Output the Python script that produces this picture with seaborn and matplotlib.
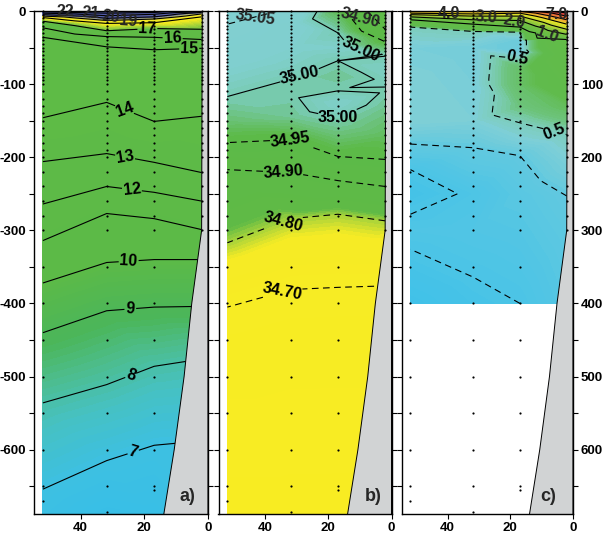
import numpy as np
import matplotlib
matplotlib.use("Agg")
import matplotlib.pyplot as plt
import matplotlib.tri as mtri
from matplotlib.colors import LinearSegmentedColormap, Normalize
from matplotlib.ticker import FixedLocator, FuncFormatter
import seaborn as sns

sns.set_style("ticks")
plt.rcParams["font.family"] = ["Liberation Sans Narrow", "Liberation Sans", "DejaVu Sans"]
plt.rcParams["font.weight"] = "bold"
plt.rcParams["axes.unicode_minus"] = False
plt.rcParams["lines.dashed_pattern"] = [6, 4]

# station positions (km from the coast)
STATION_KM = [51.8, 31.8, 16.9, 2.0]
STATION_BOTTOM = [670, 685, 655, 300]
SAMPLE_DEPTHS = [0, 5, 10, 15, 20, 25, 30, 35, 40, 45, 50, 55, 60, 65, 70, 75, 80, 85, 90, 95,
                 100, 110, 120, 130, 140, 150, 160, 170, 180, 190, 200, 220, 240, 260, 280, 300,
                 350, 400, 450, 500, 550, 600, 650]

# bottom profile
BATHY_KM = [1.8, 2.0, 5.1, 7.5, 10.6, 14.3]
BATHY_DEPTH = [0, 300, 400, 500, 600, 700]

# a) temperature: depth / value pairs read at each station
TEMP_DEPTH = [
    [0, 1, 3, 5, 7, 9, 14, 23, 36, 146, 206, 264, 314, 372, 440, 536, 654, 690],
    [0, 3, 6.5, 10, 13, 17, 27, 35, 49, 125, 195, 240, 277, 344, 410, 511, 615, 690],
    [0, 2, 4.5, 8, 11, 16, 24, 36, 53, 151, 207, 248, 284, 340, 405, 486, 594, 690],
    [0, 1, 2, 4, 8, 25, 39, 51, 144, 221, 260, 299, 340, 404, 476, 588, 690],
]
TEMP_VALUE = [
    [22.4, 22, 21, 20, 19, 18, 17, 16, 15, 14, 13, 12, 11, 10, 9, 8, 7, 6.8],
    [22.6, 22, 21, 20, 19, 18, 17, 16, 15, 14, 13, 12, 11, 10, 9, 8, 7, 6.4],
    [22.5, 22, 21, 20, 19, 18, 17, 16, 15, 14, 13, 12, 11, 10, 9, 8, 7, 6.5],
    [21.6, 21, 20, 19, 18, 17, 16, 15, 14, 13, 12, 11, 10, 9, 8, 7, 6.8],
]

# b) salinity
SAL_DEPTH = [
    [0, 18, 60, 117, 150, 180, 217, 317, 405, 690],
    [0, 20, 50, 75, 93, 117, 145, 176, 221, 284, 381, 690],
    [0, 30, 50, 68, 88, 108, 127, 150, 170, 199, 232, 278, 378, 690],
    [0, 25, 42, 60, 80, 95, 110, 130, 170, 203, 240, 287, 376, 690],
]
SAL_VALUE = [
    [35.07, 35.05, 35.03, 35.00, 34.98, 34.95, 34.90, 34.80, 34.70, 34.62],
    [35.045, 35.03, 35.02, 35.01, 35.00, 34.997, 34.99, 34.95, 34.90, 34.80, 34.70, 34.62],
    [34.965, 35.00, 35.015, 35.00, 34.99, 34.999, 35.015, 34.997, 34.98, 34.95, 34.90, 34.80, 34.70, 34.62],
    [34.86, 34.90, 34.95, 34.999, 35.01, 35.003, 34.998, 34.99, 34.97, 34.95, 34.90, 34.80, 34.70, 34.62],
]

# c) third parameter (upper 400 m only)
C_DEPTH = [
    [0, 3, 5, 8, 12, 22, 50, 100, 150, 182, 217, 250, 278, 300, 326, 400],
    [0, 4, 7, 12, 18, 28, 50, 100, 150, 187, 250, 300, 364, 400],
    [0, 3, 7, 13, 22, 29, 40, 55, 65, 80, 100, 130, 153, 175, 198, 250, 300, 400],
    [0, 2.5, 7, 12, 18, 25, 32, 39, 60, 100, 130, 169, 210, 253, 300, 400],
]
C_VALUE = [
    [4.8, 4.0, 3.0, 2.0, 1.0, 0.5, 0.45, 0.47, 0.47, 0.4, 0.3, 0.27, 0.3, 0.32, 0.3, 0.24],
    [4.6, 4.0, 3.0, 2.0, 1.0, 0.5, 0.44, 0.45, 0.46, 0.4, 0.31, 0.33, 0.3, 0.28],
    [5.2, 4.0, 3.0, 2.0, 1.0, 0.5, 0.42, 0.42, 0.5, 0.6, 0.6, 0.56, 0.5, 0.46, 0.4, 0.36, 0.34, 0.3],
    [8.5, 7.0, 6.0, 5.0, 4.0, 3.0, 2.0, 1.0, 0.85, 0.75, 0.62, 0.5, 0.45, 0.4, 0.38, 0.35],
]

# colour stops (value, colour)
TEMP_STOPS = [(6.0, "#34bdea"), (7.0, "#3dc0e2"), (7.7, "#46c1c2"), (8.3, "#4dbd8c"),
              (8.8, "#4bb65a"), (10.0, "#5cba47"), (17.0, "#5fbb46"), (17.5, "#b0d636"),
              (17.9, "#f4ea1e"), (19.2, "#f0e62a"), (19.7, "#9aa090"), (20.1, "#5c64ae"),
              (23.0, "#4b55a4")]
SAL_STOPS = [(34.55, "#f9ed21"), (34.775, "#f6eb25"), (34.80, "#a8d33a"), (34.82, "#5fba46"),
             (34.96, "#5cba48"), (34.985, "#6cc27e"), (35.00, "#79cbb5"), (35.02, "#80cfcf"),
             (35.10, "#82d0d2")]
C_STOPS = [(0.2, "#39bfea"), (0.3, "#4bc4e6"), (0.4, "#62c9df"), (0.46, "#7fcfd6"),
           (0.5, "#7dcdbb"), (0.56, "#6cc37a"), (0.65, "#60bb4c"), (1.0, "#62bc47"),
           (2.0, "#74bf42"), (3.0, "#b5d535"), (4.0, "#ece426"), (5.0, "#f09a34"),
           (6.5, "#e5463c"), (8.0, "#c02e4e"), (9.0, "#6a2f6e")]

TEMP_LEVELS = [7, 8, 9, 10, 11, 12, 13, 14, 15, 16, 17, 18, 19, 20, 21, 22]
SAL_SOLID = [35.00]
SAL_DASHED = [34.70, 34.80, 34.90, 34.95, 35.05]
C_SOLID = [1.0, 2.0, 3.0, 4.0, 5.0, 6.0, 7.0]
C_DASHED = [0.3, 0.4, 0.5]

# inline contour labels: anchor points (km, -depth)
TEMP_LABELS = {17: [(19, -27)], 16: [(11.1, -37)], 15: [(5.9, -50)], 14: [(26, -132)],
               13: [(26, -199)], 12: [(23.8, -241)], 10: [(24.9, -342)], 9: [(24.4, -406)],
               8: [(24.4, -496)], 7: [(23.3, -606)]}
SAL_LABELS = {34.90: [(34.2, -220)], 35.00: [(9.3, -46), (28.9, -90), (16.8, -147)],
              34.95: [(32, -174)], 34.80: [(33.7, -295)], 34.70: [(34.2, -388)]}
C_LABELS = {0.5: [(18, -68), (5.8, -164)]}
# label rotations that differ from the local contour direction
SAL_ROT = {35.00: [-25, 12, 0]}

# crowded near-surface labels: (value, km, -depth, rotation)
TEMP_TOP = [(22, 44.6, -1.3, 0), (21, 36.9, -2.8, -4), (20, 30.6, -8.5, -8), (19, 25.0, -14.5, -4)]
SAL_TOP = [(35.05, 43.0, -8.6, -8), (34.90, 9.8, -10, -15)]
C_TOP = [(4.0, 39.4, -3.8, 0), (3.0, 27.6, -8.4, -4), (2.0, 18.6, -14, -10),
         (1.0, 8.4, -32, -20), (7.0, 5.2, -4.8, 0)]


def make_cmap(stops):
    lo, hi = stops[0][0], stops[-1][0]
    cmap = LinearSegmentedColormap.from_list(
        "sec", [((v - lo) / (hi - lo), c) for v, c in stops], N=1024)
    return cmap, Normalize(lo, hi)


def section(ax, depths, values, stops, solid, dashed, labels, top, fmt, fill_levels, rot=None):
    rot = rot or {}
    xs, ys, zs = [], [], []
    for km, d, v in zip(STATION_KM, depths, values):
        xs += [km] * len(d)
        ys += [-z for z in d]
        zs += v
    xs, ys, zs = np.array(xs), np.array(ys), np.array(zs, dtype=float)
    # triangulate in stretched coordinates so triangles join similar depths
    tri = mtri.Triangulation(xs, ys, mtri.Triangulation(xs * 40, ys).triangles)
    cmap, norm = make_cmap(stops)
    ax.tricontourf(tri, zs, levels=fill_levels, cmap=cmap, norm=norm, zorder=1)
    for lev in sorted(solid + dashed):
        ls = "dashed" if lev in dashed else "solid"
        cs = ax.tricontour(tri, zs, levels=[lev], colors="k", linewidths=0.8,
                           linestyles=ls, zorder=2)
        pos = labels.get(lev)
        if pos:
            txt = ax.clabel(cs, manual=pos, fmt=fmt, fontsize=11.5, inline=True,
                            inline_spacing=2)
            for k, t in enumerate(txt):
                t.set_zorder(6)
                if lev in rot:
                    t.set_rotation(rot[lev][k])
    for lev, x, y, r in top:
        ax.text(x, y, fmt % lev, fontsize=11.5, ha="center", va="center", rotation=r,
                zorder=6)


fig = plt.figure(figsize=(6.04, 5.35), dpi=100)
W, H = 604, 535
boxes = [(34, 208), (218.5, 391.5), (401.7, 573)]
axes = [fig.add_axes([l / W, 1 - 514 / H, (r - l) / W, 503 / H]) for l, r in boxes]

section(axes[0], TEMP_DEPTH, TEMP_VALUE, TEMP_STOPS, TEMP_LEVELS, [], TEMP_LABELS, TEMP_TOP,
        "%d", np.linspace(6, 23, 171))
section(axes[1], SAL_DEPTH, SAL_VALUE, SAL_STOPS, SAL_SOLID, SAL_DASHED, SAL_LABELS, SAL_TOP,
        "%.2f", np.linspace(34.55, 35.10, 111), rot=SAL_ROT)
section(axes[2], C_DEPTH, C_VALUE, C_STOPS, C_SOLID, C_DASHED, C_LABELS, C_TOP,
        "%.1f", np.concatenate([np.linspace(0.2, 1.0, 81), np.linspace(1.05, 9.0, 80)]))

for i, (ax, tag) in enumerate(zip(axes, ["a)", "b)", "c)"])):
    # bottom topography
    ax.fill(BATHY_KM + [0.0, 0.0], [-d for d in BATHY_DEPTH] + [-700, 0],
            facecolor="#d1d3d4", edgecolor="k", linewidth=0.7, zorder=3)
    # sampling points
    dx, dy = [], []
    for km, bot in zip(STATION_KM, STATION_BOTTOM):
        dd = [d for d in SAMPLE_DEPTHS if d < bot - 4] + [bot]
        dx += [km] * len(dd)
        dy += [-d for d in dd]
    sns.scatterplot(x=dx, y=dy, ax=ax, color="k", s=2.5, linewidth=0, legend=False,
                    zorder=4, clip_on=False)

    ax.set_xlim(54.6, 0)
    ax.set_ylim(-688, 0)
    ax.set_xticks([40, 20, 0])
    ax.set_xticklabels(["40", "20", "0"])
    ax.yaxis.set_major_locator(FixedLocator([0, -100, -200, -300, -400, -500, -600]))
    ax.yaxis.set_minor_locator(FixedLocator([-50, -150, -250, -350, -450, -550, -650]))
    ax.tick_params(axis="both", which="both", direction="out", length=3.5, width=0.8,
                   labelsize=9.5, colors="k", pad=2)
    ax.tick_params(axis="y", which="both", left=True, right=True,
                   labelleft=(i == 0), labelright=(i == 2))
    if i == 2:
        ax.yaxis.set_major_formatter(FuncFormatter(lambda v, p: f"{abs(int(round(v)))}"))
    else:
        ax.yaxis.set_major_formatter(FuncFormatter(lambda v, p: f"{int(round(v))}"))
    ax.set_xlabel("")
    ax.set_ylabel("")
    for sp in ax.spines.values():
        sp.set_color("k")
        sp.set_linewidth(1.0)
        sp.set_zorder(5)
    ax.text([0.879, 0.893, 0.856][i], 0.034, tag, transform=ax.transAxes, ha="center",
            va="center", fontsize=13, zorder=6)

fig.savefig("out.png", dpi=100)
